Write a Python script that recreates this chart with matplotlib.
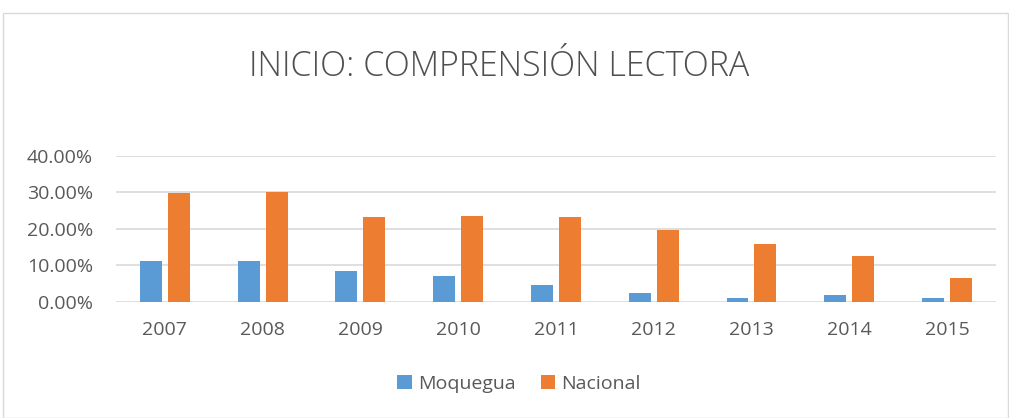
import matplotlib.pyplot as plt
import numpy as np
from matplotlib.ticker import PercentFormatter
from matplotlib.patches import Rectangle

years = ["2007", "2008", "2009", "2010", "2011", "2012", "2013", "2014", "2015"]
moquegua = [11.2, 11.2, 8.4, 7.1, 4.6, 2.4, 1.0, 1.8, 1.0]
nacional = [29.8, 30.0, 23.3, 23.5, 23.2, 19.8, 15.8, 12.5, 6.5]

plt.rcParams['font.family'] = ['Open Sans', 'DejaVu Sans']
text_color = '#595959'

fig = plt.figure(figsize=(10.09, 4.18), dpi=100)
fig.patches.append(Rectangle((0.003, 0.0), 0.996, 0.97, transform=fig.transFigure,
                             fill=False, edgecolor='#D9D9D9', linewidth=1))

ax = fig.add_axes([0.115, 0.278, 0.872, 0.349])
x = np.arange(len(years))
w = 0.225
ax.bar(x - 0.143, moquegua, w, color='#5B9BD5', label='Moquegua', zorder=3)
ax.bar(x + 0.143, nacional, w, color='#ED7D31', label='Nacional', zorder=3)

ax.set_xlim(-0.5, len(years) - 0.5)
ax.set_ylim(0, 40)
ax.set_yticks([0, 10, 20, 30, 40])
ax.yaxis.set_major_formatter(PercentFormatter(decimals=2))
ax.set_xticks(x)
ax.set_xticklabels(years)
ax.tick_params(axis='both', length=0, labelsize=14, colors=text_color)
ax.tick_params(axis='x', pad=14)
ax.tick_params(axis='y', pad=16.5)
ax.grid(axis='y', color='#D9D9D9', linewidth=1.2, zorder=0)
for s in ax.spines.values():
    s.set_visible(False)

fig.text(0.495, 0.84, 'INICIO: COMPRENSIÓN LECTORA', ha='center', va='center',
         fontsize=24.5, color='#505050', fontweight='light')

ax.legend(loc='center', bbox_to_anchor=(0.458, -0.564), ncol=2, frameon=False,
          fontsize=14, labelcolor=text_color, handlelength=0.75, handleheight=0.75,
          columnspacing=1.3, handletextpad=0.3)

fig.savefig('out.png', dpi=100)
